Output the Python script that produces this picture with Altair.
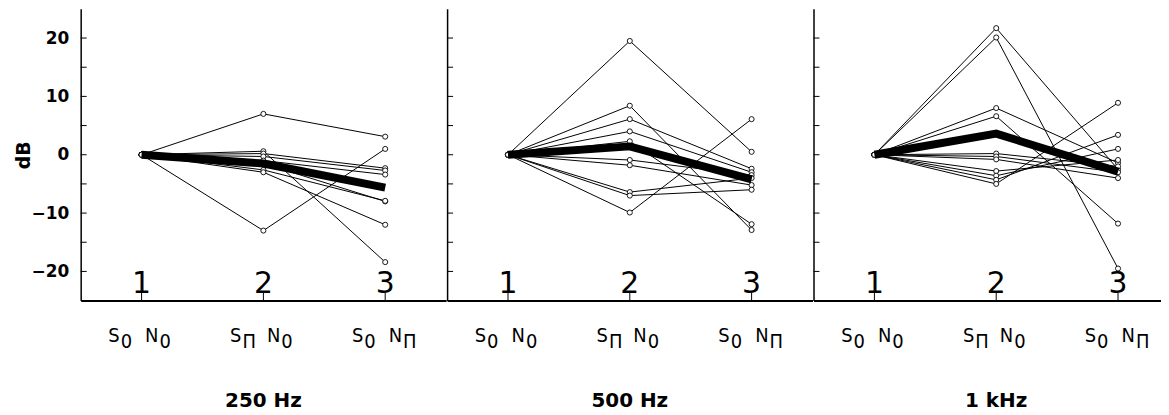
import altair as alt
import pandas as pd

# ---------------- data ----------------
conditions = [1, 2, 3]
panels = ["250 Hz", "500 Hz", "1 kHz"]

# individual listeners: value at condition 1 is the reference (0 dB)
c2_250 = [7.0, -13.0, 0.6, 0.2, -0.3, -1.0, -1.5, -2.6, -3.0]
c3_250 = [3.1, 1.0, -18.4, -2.3, -2.7, -3.4, -8.0, -7.9, -12.0]

c2_500 = [19.5, 8.4, 6.1, 4.0, 2.3, -0.9, -1.8, -6.4, -7.0, -9.9]
c3_500 = [0.5, -12.9, -2.4, -3.0, -11.9, -3.5, -5.2, -4.0, -6.0, 6.1]

c2_1k = [21.7, 20.1, 8.0, 6.6, 0.2, -0.3, -0.8, -2.8, -3.6, -4.3, -5.0]
c3_1k = [-2.5, -19.5, -1.4, -11.8, -2.0, -3.0, -4.0, -0.9, 1.0, 3.4, 8.9]

y_tick_values = [-20, -15, -10, -5, 0, 5, 10, 15, 20]
y_label_values = [-20, -10, 0, 10, 20]
cond_numbers = ["1", "2", "3"]
label_main_1 = ["S", "S", "S"]
label_sub_1 = ["0", "\u03a0", "0"]
label_main_2 = ["N", "N", "N"]
label_sub_2 = ["0", "0", "\u03a0"]

series = {"250 Hz": (c2_250, c3_250), "500 Hz": (c2_500, c3_500), "1 kHz": (c2_1k, c3_1k)}

rows = []
for p in panels:
    c2, c3 = series[p]
    for i, (a, b) in enumerate(zip(c2, c3)):
        rows.append({"panel": p, "subject": i, "cond": 1, "value": 0.0})
        rows.append({"panel": p, "subject": i, "cond": 2, "value": a})
        rows.append({"panel": p, "subject": i, "cond": 3, "value": b})
df = pd.DataFrame(rows)

ticks_df = pd.DataFrame({"value": y_tick_values})
labels_df = pd.DataFrame({
    "cond": conditions, "num": cond_numbers,
    "m1": label_main_1, "s1": label_sub_1, "m2": label_main_2, "s2": label_sub_2,
})

H = 293
STEP = 367 / 3.0
BOLD = "DejaVu Sans"
NARROW = "Liberation Sans Narrow, Arial Narrow, DejaVu Sans Condensed, DejaVu Sans, sans-serif"


def make_panel(idx, name, width):
    xmax = 0.5 + width / STEP
    d = df[df.panel == name]
    xscale = alt.Scale(domain=[0.5, xmax], nice=False, zero=False)
    yscale = alt.Scale(domain=[-25, 25], nice=False, zero=False)
    xaxis = alt.Axis(labels=False, ticks=False, title=None, grid=False,
                     domainColor="black", domainWidth=2)
    if idx == 0:
        yaxis = alt.Axis(values=y_label_values, ticks=False, grid=False,
                         labelFont=BOLD, labelFontWeight="bold", labelFontSize=17,
                         labelColor="black", labelPadding=12,
                         title="dB", titleFont=BOLD, titleFontWeight="bold",
                         titleFontSize=19, titleColor="black", titlePadding=2,
                         titleBaseline="alphabetic",
                         domainColor="black", domainWidth=1.5)
    else:
        yaxis = alt.Axis(labels=False, ticks=False, grid=False, title=None,
                         domainColor="black", domainWidth=1.5)

    def X(field="cond"):
        return alt.X(f"{field}:Q", scale=xscale, axis=xaxis)

    def Y(field="value", agg=None):
        if agg:
            return alt.Y(f"{agg}({field}):Q", scale=yscale, axis=yaxis,
                         title="dB" if idx == 0 else None)
        return alt.Y(f"{field}:Q", scale=yscale, axis=yaxis,
                     title="dB" if idx == 0 else None)

    thin = alt.Chart(d).mark_line(color="black", strokeWidth=1).encode(
        x=X(), y=Y(), detail="subject:N", order="cond:Q")
    pts = alt.Chart(d).mark_point(shape="circle", filled=True, fill="white",
                                  stroke="black", strokeWidth=0.9, size=26,
                                  opacity=1).encode(x=X(), y=Y())
    mean = alt.Chart(d).mark_line(color="black", strokeWidth=8).encode(
        x=X(), y=Y(agg="mean"))
    yt = alt.Chart(ticks_df).mark_rule(color="black", strokeWidth=1).encode(
        y=Y(), x=alt.value(0), x2=alt.value(6))
    xt = alt.Chart(labels_df).mark_rule(color="black", strokeWidth=1).encode(
        x=X(), y=alt.value(H - 8), y2=alt.value(H))
    nums = alt.Chart(labels_df).mark_text(font="DejaVu Sans", fontSize=30,
                                          color="black", baseline="alphabetic",
                                          align="center").encode(
        x=X(), y=alt.value(H - 8), text="num:N")

    def piece(field, align, dx, dy):
        return alt.Chart(labels_df).mark_text(font=NARROW, fontSize=20,
                                              color="black", baseline="alphabetic",
                                              align=align, dx=dx).encode(
            x=X(), y=alt.value(dy), text=f"{field}:N")

    l1 = piece("m1", "right", -22, 335)
    l2 = piece("s1", "left", -21, 341)
    l3 = piece("m2", "right", 17, 335)
    l4 = piece("s2", "left", 18, 341)

    title = alt.Chart(pd.DataFrame({"cond": [2], "t": [name]})).mark_text(
        font=BOLD, fontWeight="bold", fontSize=20, color="black",
        baseline="alphabetic", align="center").encode(
        x=X(), y=alt.value(400), text="t:N")

    return alt.layer(thin, pts, mean, yt, xt, nums, l1, l2, l3, l4, title).properties(
        width=width, height=H, view=alt.ViewBackground(stroke="transparent", strokeWidth=0))


widths = [367, 367, 349]
chart = alt.hconcat(*[make_panel(i, p, w) for i, (p, w) in enumerate(zip(panels, widths))],
                    spacing=0).properties(
    padding={"left": 6, "top": 0, "right": 0, "bottom": 0}
).configure_view(stroke="transparent", strokeWidth=0).configure(background="white")

chart.save("out.html", embed_options={"renderer": "svg", "actions": False})
